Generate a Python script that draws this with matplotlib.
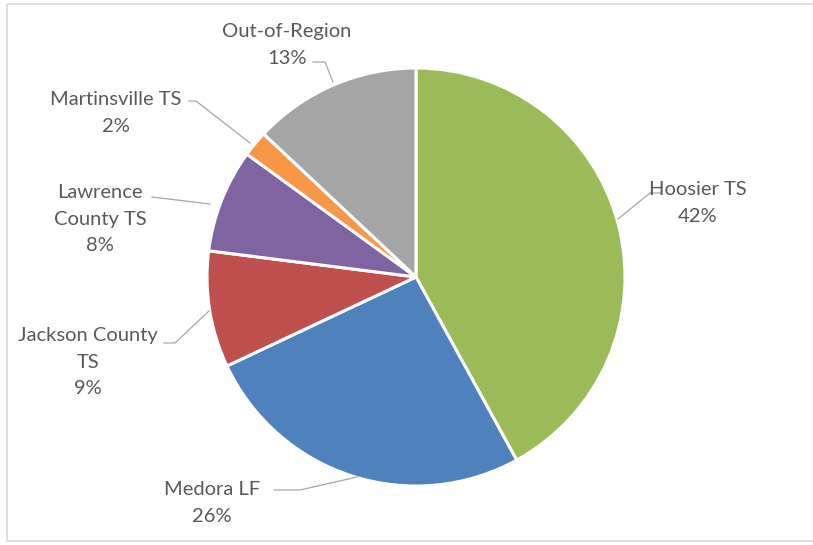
import matplotlib.pyplot as plt
import matplotlib.transforms as mtrans
from matplotlib.patches import Rectangle

# Waste disposal share by facility
labels = ['Hoosier TS', 'Medora LF', 'Jackson County\nTS', 'Lawrence\nCounty TS',
          'Martinsville TS', 'Out-of-Region']
shares = [42, 26, 9, 8, 2, 13]
colors = ['#9BBB59', '#4F81BD', '#C0504D', '#8064A2', '#F79646', '#A5A5A5']

# label anchor (text centre) and leader-line path, in pixel coordinates
label_pos = [(698, 203), (212, 503), (88, 362), (100, 219), (116, 113), (287, 45)]
leaders = [
    [(661, 193), (650, 193), (618, 219)],
    [(274, 490), (300, 490), (357, 477)],
    [(164, 343), (175, 343), (209, 311)],
    [(152, 197), (210, 204)],
    [(189, 101), (196, 101), (250, 143)],
    [(313, 62), (325, 62), (333, 82)],
]

W, H = 813, 545
fig = plt.figure(figsize=(W / 100, H / 100), dpi=100)
ax = fig.add_axes([0, 0, 1, 1])

cx, cy, r = 416, 277, 209
wedges, _ = ax.pie(shares, colors=colors, startangle=90, counterclock=False,
                   center=(cx, -cy), radius=r, frame=True,
                   wedgeprops=dict(edgecolor='white', linewidth=2.2))
# pie draws in a y-up frame; flip the wedges into the pixel frame
flip = mtrans.Affine2D().scale(1, -1) + ax.transData
for w in wedges:
    w.set_transform(flip)
ax.set_xlim(0, W)
ax.set_ylim(H, 0)
ax.set_aspect('auto')
ax.axis('off')

for lab, val, (tx, ty), path in zip(labels, shares, label_pos, leaders):
    ax.text(tx, ty, f'{lab}\n{val}%', ha='center', va='center',
            fontsize=14.5, color='#595959', family='Lato', linespacing=1.7)
    xs, ys = zip(*path)
    ax.plot(xs, ys, color='#A6A6A6', lw=0.9)

ax.add_patch(Rectangle((7, 4), 820, 537, fill=False, edgecolor='#D9D9D9', lw=1.2))

fig.savefig('out.png', dpi=100)
